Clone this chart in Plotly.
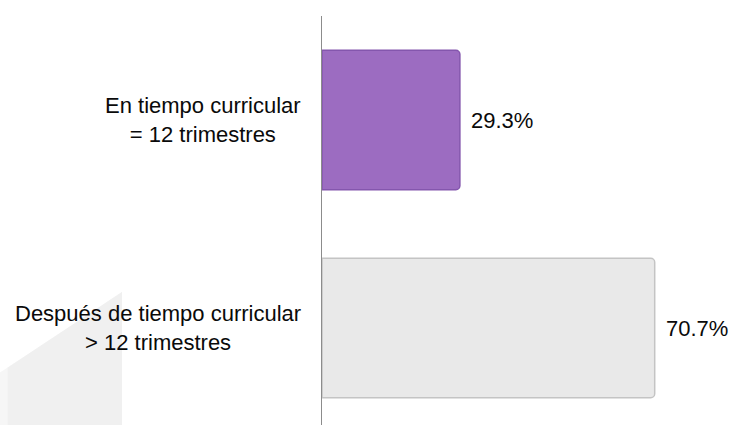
import plotly.graph_objects as go

categories = ["En tiempo curricular<br>= 12 trimestres",
              "Después de tiempo curricular<br>> 12 trimestres"]
values = [29.3, 70.7]
value_labels = ["29.3%", "70.7%"]
bar_colors = ["#9c6cc1", "#e9e9e9"]
bar_line_colors = ["#8456ad", "#c4c4c4"]

FONT = "Liberation Sans, Arial, sans-serif"

fig = go.Figure()
fig.add_trace(go.Bar(
    y=categories, x=values, orientation="h",
    width=0.67,
    marker=dict(color=bar_colors, line=dict(color=bar_line_colors, width=1.5)),
    hoverinfo="skip", showlegend=False,
))

annotations = []
for cat, v, lab in zip(categories, values, value_labels):
    annotations.append(dict(x=v, y=cat, xref="x", yref="y", text=lab,
                            showarrow=False, xanchor="left", yanchor="middle",
                            xshift=9, font=dict(family=FONT, size=22, color="#0a0a0a")))
    annotations.append(dict(x=0, y=cat, xref="paper", yref="y", text=cat,
                            showarrow=False, xanchor="right", yanchor="middle",
                            align="center", xshift=-19,
                            font=dict(family=FONT, size=22, color="#0a0a0a")))

shapes = [
    dict(type="path", xref="paper", yref="paper", layer="below",
         path="M -0.81 0.125 L -0.81 -0.01 L -0.50 -0.01 L -0.50 0.325 Z",
         fillcolor="#f6f6f6", line=dict(width=0)),
    dict(type="path", xref="paper", yref="paper", layer="below",
         path="M -0.786 0.140 L -0.786 -0.01 L -0.50 -0.01 L -0.50 0.325 Z",
         fillcolor="#f0f0f0", line=dict(width=0)),
]

fig.update_layout(
    width=732, height=425,
    margin=dict(l=322, r=10, t=16, b=0),
    paper_bgcolor="white", plot_bgcolor="white",
    barcornerradius=4,
    xaxis=dict(range=[0, 85], visible=False, fixedrange=True),
    yaxis=dict(range=[1.466, -0.5], showticklabels=False, showgrid=False,
               showline=True, linecolor="#8c8c8c", linewidth=1, ticks="",
               zeroline=False, fixedrange=True),
    annotations=annotations,
    shapes=shapes,
    font=dict(family=FONT),
)

fig.write_html("out.html",
               config={"displayModeBar": False},
               post_script="document.body.style.margin='0';document.body.style.overflow='hidden';")
